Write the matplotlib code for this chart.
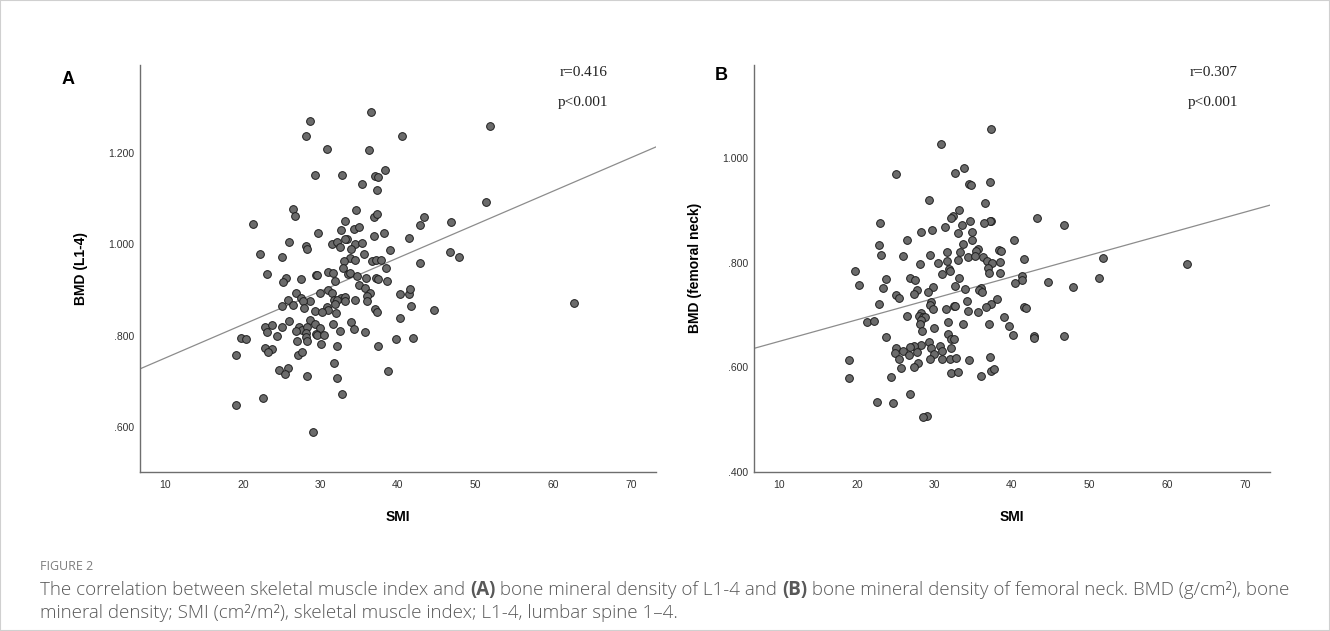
import numpy as np
import matplotlib.pyplot as plt
from matplotlib.patches import Rectangle

# Panel A: SMI vs BMD of L1-4
smi_a = [36.5, 28.6, 51.8, 28.2, 40.5, 30.8, 36.3, 38.3, 29.3, 32.8,
         37.0, 37.4, 35.3, 37.3, 51.3, 26.5, 34.6, 26.7, 43.3, 36.9,
         37.3, 21.3, 33.2, 46.8, 42.9, 34.3, 35.0, 32.7, 38.2, 29.7,
         36.9, 41.4, 33.4, 33.2, 25.9, 31.5, 32.1, 32.5, 34.5, 35.3,
         28.1, 28.3, 33.9, 39.0, 46.7, 22.2, 35.6, 25.1, 47.9, 33.8,
         33.1, 34.4, 36.7, 37.2, 37.8, 42.9, 32.9, 38.5, 23.1, 31.0,
         31.6, 29.4, 29.6, 33.5, 33.8, 25.5, 25.2, 27.5, 34.7, 35.9,
         37.2, 37.4, 31.9, 38.6, 35.0, 35.7, 31.0, 31.5, 29.9, 26.8,
         36.4, 40.3, 41.4, 41.6, 36.0, 27.5, 25.8, 28.7, 27.8, 31.7,
         32.6, 33.2, 32.2, 31.9, 33.2, 34.4, 36.0, 25.0, 26.4, 27.9,
         30.9, 31.0, 29.3, 30.2, 32.0, 37.0, 37.3, 41.7, 44.7, 28.6,
         25.9, 31.6, 34.0, 29.3, 40.2, 22.9, 23.7, 25.1, 27.3, 27.6,
         28.3, 30.0, 23.1, 26.8, 28.2, 34.3, 35.7, 32.5, 24.4, 28.2,
         29.4, 29.6, 30.5, 19.7, 20.4, 27.0, 28.3, 39.7, 41.9, 30.1,
         22.8, 23.7, 23.3, 32.2, 37.4, 19.1, 27.1, 27.6, 31.8, 24.6,
         25.8, 25.4, 28.3, 32.1, 38.7, 22.6, 32.8, 19.1, 29.1, 62.7]
bmd_l14 = [1.289, 1.270, 1.259, 1.238, 1.237, 1.210, 1.207, 1.162, 1.151, 1.151,
           1.149, 1.147, 1.133, 1.119, 1.092, 1.078, 1.075, 1.062, 1.059, 1.059,
           1.066, 1.045, 1.051, 1.049, 1.043, 1.034, 1.037, 1.032, 1.026, 1.025,
           1.019, 1.015, 1.012, 1.011, 1.005, 1.000, 1.006, 0.994, 1.001, 1.003,
           0.996, 0.989, 0.990, 0.987, 0.983, 0.978, 0.980, 0.973, 0.973, 0.970,
           0.963, 0.965, 0.963, 0.965, 0.965, 0.960, 0.949, 0.949, 0.936, 0.940,
           0.937, 0.934, 0.934, 0.936, 0.938, 0.927, 0.918, 0.924, 0.930, 0.927,
           0.927, 0.924, 0.919, 0.919, 0.911, 0.904, 0.901, 0.894, 0.894, 0.894,
           0.893, 0.891, 0.892, 0.903, 0.886, 0.883, 0.878, 0.875, 0.876, 0.879,
           0.883, 0.884, 0.879, 0.870, 0.875, 0.879, 0.876, 0.864, 0.868, 0.860,
           0.862, 0.857, 0.854, 0.851, 0.850, 0.859, 0.851, 0.864, 0.856, 0.835,
           0.832, 0.826, 0.829, 0.825, 0.839, 0.820, 0.823, 0.819, 0.820, 0.813,
           0.820, 0.816, 0.809, 0.810, 0.806, 0.815, 0.808, 0.810, 0.800, 0.797,
           0.804, 0.801, 0.802, 0.794, 0.793, 0.789, 0.788, 0.792, 0.796, 0.782,
           0.773, 0.771, 0.765, 0.778, 0.777, 0.758, 0.758, 0.764, 0.740, 0.725,
           0.730, 0.715, 0.712, 0.707, 0.722, 0.663, 0.673, 0.648, 0.589, 0.872]

# Panel B: SMI vs BMD of femoral neck
smi_b = [37.3, 30.9, 33.8, 32.7, 25.0, 37.2, 34.5, 34.7, 29.3, 36.5,
         33.2, 32.4, 32.1, 43.2, 23.0, 37.3, 37.1, 34.6, 36.4, 33.5,
         46.7, 31.4, 28.3, 29.7, 34.9, 33.1, 40.3, 26.4, 33.7, 34.8,
         22.8, 35.6, 35.3, 31.6, 33.3, 38.3, 38.6, 23.1, 29.4, 25.9,
         34.3, 35.2, 36.2, 31.6, 33.1, 36.8, 37.4, 38.4, 41.6, 51.7,
         30.5, 28.2, 36.9, 31.9, 32.0, 31.0, 37.0, 38.4, 19.7, 62.6,
         26.9, 27.5, 23.7, 33.2, 41.3, 41.3, 40.4, 44.6, 51.2, 20.3,
         23.4, 29.8, 32.7, 33.9, 27.7, 36.0, 35.8, 36.1, 47.9, 29.2,
         27.4, 25.0, 25.4, 38.1, 34.2, 29.5, 29.4, 37.3, 29.8, 32.5,
         32.7, 36.7, 31.5, 22.8, 41.5, 41.8, 21.3, 22.2, 26.4, 28.3,
         28.0, 28.5, 28.8, 34.3, 35.6, 39.0, 28.3, 28.2, 31.7, 33.7,
         37.0, 39.6, 30.0, 28.4, 23.7, 31.7, 32.1, 32.5, 40.1, 42.8,
         42.8, 46.7, 29.3, 28.3, 27.4, 30.7, 26.9, 25.0, 32.1, 29.6,
         25.9, 26.7, 27.7, 31.0, 24.9, 30.0, 19.0, 25.4, 29.4, 31.0,
         32.0, 32.8, 34.4, 37.2, 27.9, 27.4, 25.7, 32.2, 33.1, 37.3,
         37.7, 36.0, 19.0, 24.4, 26.8, 22.6, 24.6, 29.0, 28.5]
bmd_neck = [1.057, 1.028, 0.982, 0.973, 0.970, 0.954, 0.952, 0.949, 0.921, 0.914,
            0.902, 0.890, 0.886, 0.886, 0.876, 0.881, 0.880, 0.881, 0.876, 0.873,
            0.873, 0.868, 0.860, 0.862, 0.860, 0.857, 0.843, 0.843, 0.837, 0.843,
            0.835, 0.827, 0.822, 0.820, 0.820, 0.824, 0.823, 0.815, 0.815, 0.813,
            0.811, 0.814, 0.811, 0.803, 0.806, 0.803, 0.800, 0.801, 0.808, 0.809,
            0.799, 0.797, 0.790, 0.789, 0.784, 0.778, 0.780, 0.781, 0.784, 0.797,
            0.771, 0.767, 0.769, 0.771, 0.775, 0.768, 0.761, 0.763, 0.771, 0.757,
            0.751, 0.753, 0.755, 0.750, 0.748, 0.752, 0.748, 0.744, 0.753, 0.745,
            0.740, 0.738, 0.733, 0.731, 0.727, 0.726, 0.719, 0.722, 0.712, 0.718,
            0.718, 0.715, 0.712, 0.721, 0.716, 0.713, 0.687, 0.689, 0.698, 0.704,
            0.698, 0.696, 0.697, 0.707, 0.706, 0.697, 0.690, 0.683, 0.686, 0.683,
            0.683, 0.679, 0.675, 0.669, 0.658, 0.664, 0.655, 0.655, 0.662, 0.659,
            0.657, 0.660, 0.648, 0.643, 0.641, 0.641, 0.638, 0.636, 0.636, 0.637,
            0.632, 0.624, 0.630, 0.632, 0.628, 0.625, 0.613, 0.615, 0.615, 0.616,
            0.615, 0.618, 0.613, 0.620, 0.608, 0.601, 0.599, 0.589, 0.591, 0.593,
            0.596, 0.583, 0.579, 0.581, 0.549, 0.533, 0.531, 0.507, 0.504]

x_ticks = [10, 20, 30, 40, 50, 60, 70]
y_ticks_a = [0.6, 0.8, 1.0, 1.2]
y_ticks_b = [0.4, 0.6, 0.8, 1.0]
stats_a = ["r=0.416", "p<0.001"]
stats_b = ["r=0.307", "p<0.001"]

W, H = 1330, 631
XLIM = (6.74, 73.26)

fig = plt.figure(figsize=(W / 100, H / 100), dpi=100)
fig.patch.set_facecolor("white")


def spss_label(v):
    s = "%.3f" % v
    return s[1:] if s.startswith("0") else s


def draw_panel(ax, x, y, ylim, yticks, ylabel, stats, stat_x):
    x = np.asarray(x)
    y = np.asarray(y)
    ax.scatter(x, y, s=31, c="#6b6b6b", edgecolors="#1e1e1e",
               linewidths=0.7, zorder=3)
    # least squares fit line, as SPSS draws it
    slope, icpt = np.polyfit(x, y, 1)
    xs = np.array(XLIM)
    ax.plot(xs, icpt + slope * xs, color="#8c8c8c", lw=0.9, zorder=2)

    ax.set_xlim(XLIM)
    ax.set_ylim(ylim)
    ax.set_xticks(x_ticks)
    ax.set_xticklabels([str(t) for t in x_ticks])
    ax.set_yticks(yticks)
    ax.set_yticklabels([spss_label(t) for t in yticks])
    ax.tick_params(length=0, labelsize=7.5, labelcolor="#333333")
    ax.tick_params(axis="x", pad=6)
    ax.tick_params(axis="y", pad=4)
    for t in ax.get_xticklabels() + ax.get_yticklabels():
        t.set_family("Liberation Sans")

    for side in ("top", "right"):
        ax.spines[side].set_visible(False)
    for side in ("left", "bottom"):
        ax.spines[side].set_color("#6e6e6e")
        ax.spines[side].set_linewidth(1.0)

    ax.set_xlabel("SMI", fontsize=10, fontweight="bold", family="Liberation Sans")
    ax.set_ylabel(ylabel, fontsize=10, fontweight="bold", family="Liberation Sans")
    ax.xaxis.set_label_coords(0.5, -0.094)
    ax.yaxis.set_label_coords(-0.10, 0.5)

    ax.text(stat_x, 0.981, stats[0], transform=ax.transAxes, ha="center",
            va="center", fontsize=11, family="Liberation Serif", color="#222222")
    ax.text(stat_x, 0.907, stats[1], transform=ax.transAxes, ha="center",
            va="center", fontsize=11, family="Liberation Serif", color="#222222")


ax_bottom = (H - 471.7) / H
ax_height = 406.7 / H
ax_a = fig.add_axes([140 / W, ax_bottom, 516 / W, ax_height])
ax_b = fig.add_axes([754 / W, ax_bottom, 516 / W, ax_height])

draw_panel(ax_a, smi_a, bmd_l14, (0.502, 1.393), y_ticks_a, "BMD (L1-4)", stats_a, 0.859)
draw_panel(ax_b, smi_b, bmd_neck, (0.400, 1.179), y_ticks_b, "BMD (femoral neck)", stats_b, 0.890)

fig.text(68 / W, 1 - 79 / H, "A", fontsize=13, fontweight="bold",
         family="Liberation Sans", ha="center", va="center")
fig.text(721 / W, 1 - 75 / H, "B", fontsize=13, fontweight="bold",
         family="Liberation Sans", ha="center", va="center")

# caption
fig.text(40 / W, 1 - 567 / H, "FIGURE 2", fontsize=9, color="#7d7d7d",
         family="Open Sans", va="center")

renderer = fig.canvas.get_renderer()
cap_font = dict(fontsize=13.5, family="Open Sans", color="#585858", va="center")
lines = [
    [("The correlation between skeletal muscle index and ", "light"),
     ("(A)", "bold"),
     (" bone mineral density of L1-4 and ", "light"),
     ("(B)", "bold"),
     (" bone mineral density of femoral neck. BMD (g/cm\u00b2), bone", "light")],
    [("mineral density; SMI (cm\u00b2/m\u00b2), skeletal muscle index; L1-4, lumbar spine 1\u20134.", "light")],
]
for row, ypix in zip(lines, [590, 613]):
    xpix = 40
    for txt, weight in row:
        t = fig.text(xpix / W, 1 - ypix / H, txt, fontweight=weight, **cap_font)
        xpix += t.get_window_extent(renderer).width

fig.add_artist(Rectangle((0, 0), 1, 1, transform=fig.transFigure, fill=False,
                         edgecolor="#d0d0d0", lw=1.5))

fig.savefig("out.png", dpi=100)
